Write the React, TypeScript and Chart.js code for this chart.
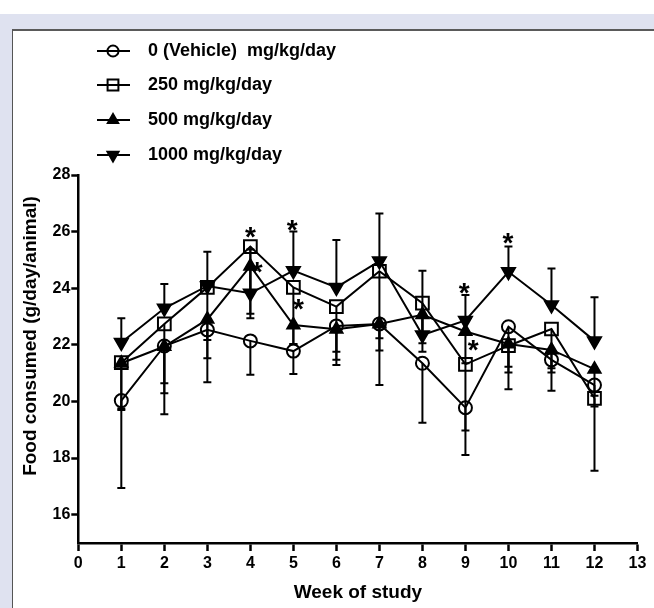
import React, { useEffect, useRef } from 'react';
import { Chart, registerables } from 'chart.js';

Chart.register(...registerables);

const FONT = "'Liberation Sans', Arial, Helvetica, sans-serif";

// ---- data ----
const weeks = [1, 2, 3, 4, 5, 6, 7, 8, 9, 10, 11, 12];
const xTicks = [0, 1, 2, 3, 4, 5, 6, 7, 8, 9, 10, 11, 12, 13];
const yTicks = [16, 18, 20, 22, 24, 26, 28];
const seriesLabels = ['0 (Vehicle)  mg/kg/day', '250 mg/kg/day', '500 mg/kg/day', '1000 mg/kg/day'];
const xTitle = 'Week of study';
const yTitle = 'Food consumed (g/day/animal)';

const vehicleMean = [20.03, 21.96, 22.53, 22.14, 21.78, 22.67, 22.74, 21.35, 19.78, 22.64, 21.47, 20.58];
const vehicleSD = [3.09, 1.32, 1.0, 1.2, 0.81, 0.91, 0.51, 2.1, 0.81, 2.21, 1.09, 0.76];
const d250Mean = [21.37, 22.74, 24.03, 25.47, 24.03, 23.35, 24.6, 23.47, 21.31, 21.97, 22.56, 20.11];
const d250SD = [1.67, 3.19, 3.35, 2.53, 2.0, 2.06, 4.02, 1.41, 3.2, 0.74, 1.39, 2.56];
const d500Mean = [21.35, 21.94, 22.9, 24.78, 22.7, 22.55, 22.74, 23.06, 22.47, 22.03, 21.82, 21.14];
const d500SD = [1.6, 1.65, 0.73, 1.68, 0.68, 1.08, 0.94, 1.3, 1.12, 1.01, 0.8, 0.94];
const d1000Mean = [22.08, 23.29, 24.08, 23.82, 24.62, 24.03, 24.96, 22.35, 22.86, 24.58, 23.41, 22.14];
const d1000SD = [0.86, 0.86, 1.21, 1.55, 1.38, 1.67, 1.68, 2.27, 0.9, 0.89, 1.29, 1.54];

// significance markers (week position, value)
const starWeeks = [4, 4.16, 4.97, 5.12, 8.97, 9.18, 9.99];
const starValues = [26.06, 24.82, 26.29, 23.49, 24.06, 22.06, 25.82];

// ---- styles ----
const seriesStyles = [
  { pointStyle: 'circle', radius: 6.5, rotation: 0, filled: false, errDir: -1 },
  { pointStyle: 'rect', radius: 9, rotation: 0, filled: false, errDir: -1 },
  { pointStyle: 'triangle', radius: 7, rotation: 0, filled: true, errDir: -1 },
  { pointStyle: 'triangle', radius: 7.5, rotation: 180, filled: true, errDir: 1 },
];
const seriesMeans = [vehicleMean, d250Mean, d500Mean, d1000Mean];
const seriesSDs = [vehicleSD, d250SD, d500SD, d1000SD];

function drawMarker(ctx: CanvasRenderingContext2D, style: any, x: number, y: number, r: number) {
  ctx.beginPath();
  if (style.pointStyle === 'circle') {
    ctx.arc(x, y, r, 0, Math.PI * 2);
  } else if (style.pointStyle === 'rect') {
    const s = r * Math.SQRT1_2;
    ctx.rect(x - s, y - s, 2 * s, 2 * s);
  } else {
    let rad = (style.rotation * Math.PI) / 180;
    ctx.moveTo(x + Math.sin(rad) * r, y - Math.cos(rad) * r);
    rad += (2 * Math.PI) / 3;
    ctx.lineTo(x + Math.sin(rad) * r, y - Math.cos(rad) * r);
    rad += (2 * Math.PI) / 3;
    ctx.lineTo(x + Math.sin(rad) * r, y - Math.cos(rad) * r);
    ctx.closePath();
  }
  if (style.filled) {
    ctx.fillStyle = '#000';
    ctx.fill();
  }
  ctx.stroke();
}

const errorBarPlugin = {
  id: 'errorBars',
  afterDatasetsDraw(chart: any) {
    const { ctx, scales } = chart;
    const xs = scales.x;
    const ys = scales.y;
    ctx.save();
    ctx.strokeStyle = '#000';
    ctx.lineWidth = 2;
    seriesMeans.forEach((means, si) => {
      const dir = seriesStyles[si].errDir;
      means.forEach((m, i) => {
        const px = xs.getPixelForValue(weeks[i]);
        const p0 = ys.getPixelForValue(m);
        const p1 = ys.getPixelForValue(m + dir * seriesSDs[si][i]);
        ctx.beginPath();
        ctx.moveTo(px, p0);
        ctx.lineTo(px, p1);
        ctx.moveTo(px - 4, p1);
        ctx.lineTo(px + 4, p1);
        ctx.stroke();
      });
    });
    // significance asterisks
    ctx.fillStyle = '#000';
    ctx.font = `bold 28px ${FONT}`;
    ctx.textAlign = 'center';
    ctx.textBaseline = 'alphabetic';
    starWeeks.forEach((w, i) => {
      const px = xs.getPixelForValue(w);
      const py = ys.getPixelForValue(starValues[i]);
      ctx.fillText('*', px, py + 0.56 * 28);
    });
    ctx.restore();
  },
};

const legendAndTitlePlugin = {
  id: 'customLegend',
  afterDraw(chart: any) {
    const { ctx } = chart;
    ctx.save();
    const rowY = [51, 85, 120, 155];
    seriesLabels.forEach((label, i) => {
      const y = rowY[i];
      ctx.strokeStyle = '#000';
      ctx.lineWidth = 2;
      ctx.beginPath();
      ctx.moveTo(97, y);
      ctx.lineTo(130, y);
      ctx.stroke();
      drawMarker(ctx, seriesStyles[i], 113, y, seriesStyles[i].radius * 0.85);
      ctx.fillStyle = '#000';
      ctx.font = `bold 18px ${FONT}`;
      ctx.textAlign = 'left';
      ctx.textBaseline = 'middle';
      ctx.fillText(label, 148, y);
    });
    // y axis title
    ctx.translate(31, 336);
    ctx.rotate(-Math.PI / 2);
    ctx.font = `bold 19px ${FONT}`;
    ctx.textAlign = 'center';
    ctx.textBaseline = 'middle';
    ctx.fillStyle = '#000';
    ctx.fillText(yTitle, 0, 0);
    ctx.restore();
  },
};

export default function App() {
  const ref = useRef<HTMLCanvasElement | null>(null);

  useEffect(() => {
    const canvas = ref.current;
    if (!canvas) return;
    const datasets = seriesMeans.map((means, si) => {
      const st = seriesStyles[si];
      return {
        label: seriesLabels[si],
        data: weeks.map((w, i) => ({ x: w, y: means[i] })),
        borderColor: '#000',
        borderWidth: 2,
        backgroundColor: st.filled ? '#000' : 'rgba(0,0,0,0)',
        pointStyle: st.pointStyle,
        pointRadius: st.radius,
        pointRotation: st.rotation,
        pointBorderColor: '#000',
        pointBorderWidth: 2,
        pointBackgroundColor: st.filled ? '#000' : 'rgba(0,0,0,0)',
        tension: 0,
        fill: false,
      };
    });
    const chart = new Chart(canvas, {
      type: 'line',
      data: { datasets } as any,
      options: {
        animation: false,
        responsive: false,
        devicePixelRatio: 1,
        events: [],
        layout: { padding: { top: 175, right: 16.5, left: 0, bottom: 0 } },
        plugins: { legend: { display: false }, tooltip: { enabled: false } },
        scales: {
          x: {
            type: 'linear',
            min: 0,
            max: 13,
            afterFit: (s: any) => {
              s.height = 65;
            },
            afterBuildTicks: (s: any) => {
              s.ticks = xTicks.map((v) => ({ value: v }));
            },
            grid: { drawOnChartArea: false, drawTicks: true, tickLength: 8, tickWidth: 2.5, tickColor: '#000' },
            border: { display: true, color: '#000', width: 2.5 },
            ticks: { color: '#000', font: { family: FONT, size: 16, weight: 'bold' }, padding: 3, maxRotation: 0, autoSkip: false },
            title: {
              display: true,
              text: xTitle,
              color: '#000',
              font: { family: FONT, size: 19, weight: 'bold' },
              padding: { top: 0, bottom: 4 },
            },
          },
          y: {
            type: 'linear',
            min: 15,
            max: 28,
            afterFit: (s: any) => {
              s.width = 78.3;
            },
            afterBuildTicks: (s: any) => {
              s.ticks = yTicks.map((v) => ({ value: v }));
            },
            grid: { drawOnChartArea: false, drawTicks: true, tickLength: 7, tickWidth: 2.5, tickColor: '#000' },
            border: { display: true, color: '#000', width: 2.5 },
            ticks: { color: '#000', font: { family: FONT, size: 16, weight: 'bold' }, padding: 1 },
          },
        },
      } as any,
      plugins: [errorBarPlugin, legendAndTitlePlugin],
    });
    return () => chart.destroy();
  }, []);

  return (
    <div style={{ position: 'fixed', left: 0, top: 0, width: 654, height: 608, background: '#fff', overflow: 'hidden' }}>
      <div style={{ position: 'absolute', left: 0, top: 14, width: 654, height: 594, background: '#dfe2f0' }} />
      <div
        style={{
          position: 'absolute',
          left: 12,
          top: 29,
          width: 700,
          height: 700,
          background: '#fff',
          borderTop: '2px solid #5a5a5a',
          borderLeft: '1px solid #555',
        }}
      />
      <canvas ref={ref} width={654} height={608} style={{ position: 'absolute', left: 0, top: 0, width: 654, height: 608 }} />
    </div>
  );
}
